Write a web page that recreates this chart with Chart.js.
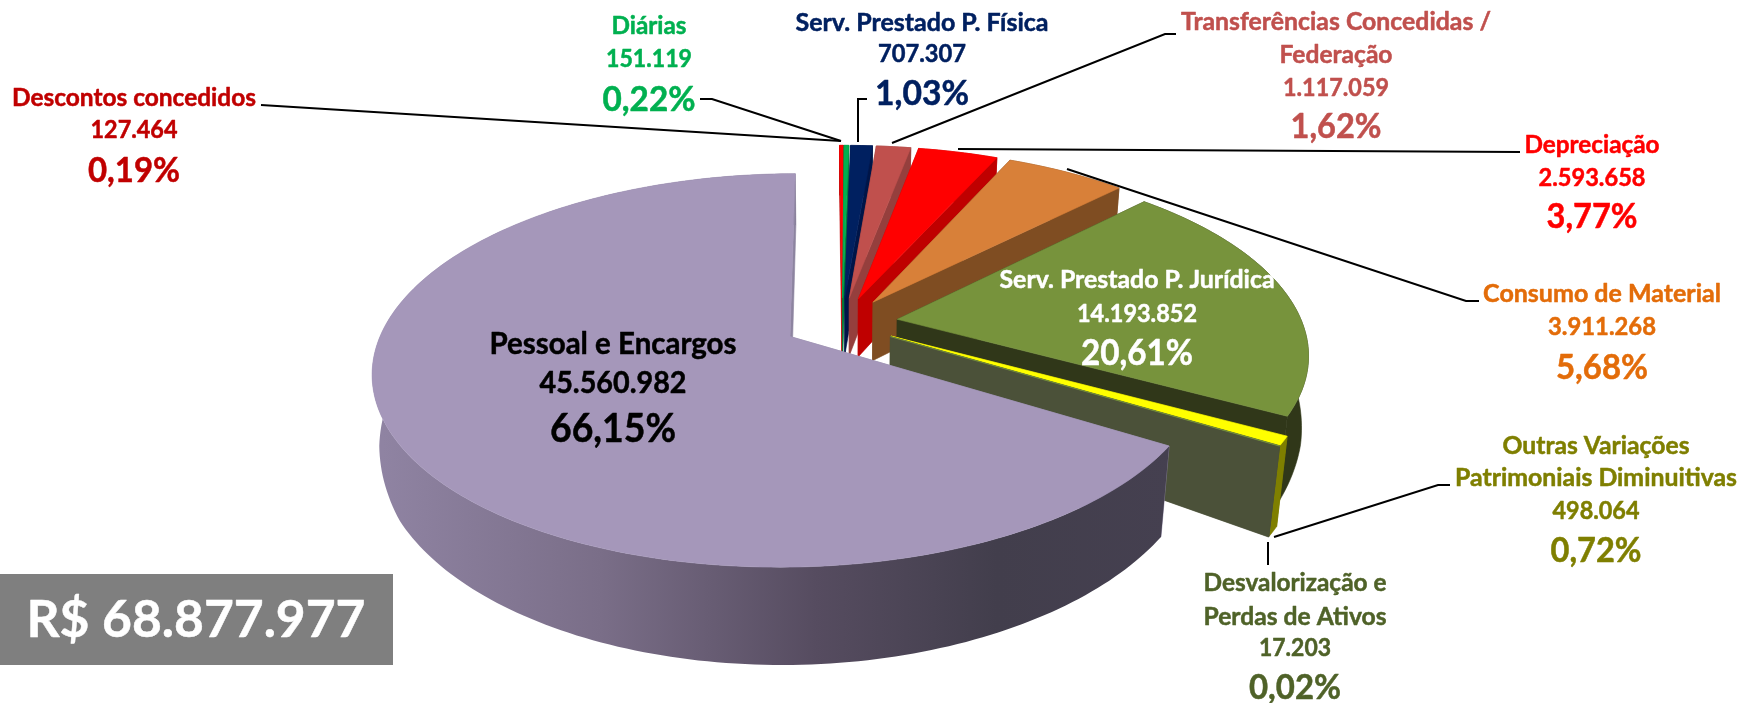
<!DOCTYPE html>
<html><head><meta charset="utf-8">
<style>html,body{margin:0;padding:0;background:#fff}canvas{display:block}</style>
<script src="https://cdn.jsdelivr.net/npm/chart.js@4"></script>
</head><body>
<canvas id="c" width="1742" height="703"></canvas>
<script>
// ---- data ----
const categories = ["Descontos concedidos","Diárias","Serv. Prestado P. Física","Transferências Concedidas / Federação","Depreciação","Consumo de Material","Serv. Prestado P. Jurídica","Outras Variações Patrimoniais Diminuitivas","Desvalorização e Perdas de Ativos","Pessoal e Encargos"];
const values = [127464,151119,707307,1117059,2593658,3911268,14193852,498064,17203,45560982];
const percents = ["0,19%","0,22%","1,03%","1,62%","3,77%","5,68%","20,61%","0,72%","0,02%","66,15%"];
const totalLabel = "R$ 68.877.977";
// ---- styles ----
const topColors = ["#FF0000","#00B050","#002060","#C0504D","#FF0000","#D88039","#77933C","#FFFF00","#77933C","#A597BA"];
const wallColors = ["#BF0000","#007A38","#001548","#953F3D","#BF0000","#7F4D22","#303719","#7F7F00","#4B5139","#8D84A0"];
const rimColors = ["#BF0000","#007A38","#001548","#953F3D","#BF0000","#7F4D22","#303719","#7F7F00","#4B5139",null];
const textColors = ["#C00000","#00B050","#002060","#C0504D","#FF0000","#E36C09","#FFFFFF","#7F7F00","#4F6228","#000000"];
const sliceOffsets = [56,56,56,56,56,56,56,56,56,59];
// ---- text layout: one block per slice: lines, centre x, centre y, width, font size
const labelLines = [
 ["Descontos concedidos"],["Diárias"],["Serv. Prestado P. Física"],["Transferências Concedidas /","Federação"],
 ["Depreciação"],["Consumo de Material"],["Serv. Prestado P. Jurídica"],["Outras Variações","Patrimoniais Diminuitivas"],
 ["Desvalorização e","Perdas de Ativos"],["Pessoal e Encargos"]];
const labelX = [134,649,922,1336,1592,1602,1137,1596,1295,613];
const labelY = [[97,129,170],[25,58,99],[22,53,93],[21,54,87,126],[144,177,216],[293,326,367],[279,313,352],[445,477,510,550],[582,616,647,687],[343,382,428]];
const labelW = [[244,87,92],[75,86,93],[253,88,94],[310,113,106,91],[135,107,91],[238,108,92],[275,120,112],[187,282,87,91],[183,183,72,92],[247,147,126]];
const smallFont = [25,25,25,25,25,25,25,25,25,30];
const bigFont = [35,35,35,35,35,35,37,35,35,41];
// ---- leader lines ----
const leaders = [
 [[261,105],[841,141]],
 [[700,99],[712,99],[841,141]],
 [[867,99],[858,99],[858,142]],
 [[1176,34],[1165,34],[892,143]],
 [[1520,152],[958,149]],
 [[1479,301],[1466,301],[1067,169]],
 [[1450,485],[1438,485],[1274,537]],
 [[1268,542],[1268,565]]
];
// ---- projection of the pie plane ----
const CX=842, CY=323, TILT=0.46, PERSP=0.00042;
const depthStops=[[150,50],[300,58],[430,90],[570,98],[700,102]];
function depthAt(y){
  for(let i=1;i<depthStops.length;i++){
    const a=depthStops[i-1],b=depthStops[i];
    if(y<=b[0]) return a[1]+(b[1]-a[1])*Math.max(0,(y-a[0]))/(b[0]-a[0]);
  }
  return depthStops[depthStops.length-1][1];
}
function convAt(y){return 0.985-Math.max(0,y-370)*0.00013;}
function top3d(px,py){const s=1/(1-PERSP*py);return [CX+px*s,CY+py*TILT*s];}
function bot3d(p){return [CX+(p[0]-CX)*convAt(p[1]),p[1]+depthAt(p[1])];}
function fillPoly(ctx,pts,fill){
  ctx.beginPath();pts.forEach((p,i)=>i?ctx.lineTo(p[0],p[1]):ctx.moveTo(p[0],p[1]));ctx.closePath();
  ctx.fillStyle=fill;ctx.fill();ctx.strokeStyle=fill;ctx.lineWidth=0.6;
  if(typeof fill==='string')ctx.stroke();
}
const pie3d={
  id:'pie3d',
  beforeDatasetDraw(chart,args){
    const ctx=chart.ctx, arcs=args.meta.data;
    arcs.forEach((arc,i)=>{
      const a0=arc.startAngle,a1=arc.endAngle,R=arc.outerRadius,off=arc.options.offset;
      const mid=(a0+a1)/2,ox=Math.cos(mid)*off,oy=Math.sin(mid)*off;
      const n=Math.max(2,Math.ceil((a1-a0)/0.02));
      const rim=[];
      for(let k=0;k<=n;k++){const t=a0+(a1-a0)*k/n;rim.push(top3d(ox+R*Math.cos(t),oy+R*Math.sin(t)));}
      const apex=top3d(ox,oy);
      const apexB=bot3d(apex),rimB=rim.map(bot3d);
      // hidden cut face
      fillPoly(ctx,[apex,rim[0],rimB[0],apexB],wallColors[i]);
      // outer wall
      let fill=rimColors[i];
      if(!fill){
        fill=ctx.createLinearGradient(383,0,1170,0);
        fill.addColorStop(0,'#8F83A2');fill.addColorStop(0.276,'#7A6E88');
        fill.addColorStop(0.55,'#564C60');fill.addColorStop(0.78,'#423E4C');fill.addColorStop(1,'#454050');
      }
      fillPoly(ctx,rim.concat(rimB.slice().reverse()),fill);
      // visible cut face
      fillPoly(ctx,[apex,rim[n],rimB[n],apexB],wallColors[i]);
      // top face
      fillPoly(ctx,[apex].concat(rim),arc.options.backgroundColor);
    });
    return false;
  },
  afterDraw(chart){
    const ctx=chart.ctx;
    ctx.save();
    ctx.strokeStyle='#000';ctx.lineWidth=2;
    leaders.forEach(l=>{ctx.beginPath();l.forEach((p,i)=>i?ctx.lineTo(p[0],p[1]):ctx.moveTo(p[0],p[1]));ctx.stroke();});
    ctx.textAlign='center';ctx.textBaseline='middle';ctx.lineWidth=0.5;ctx.lineJoin='round';
    categories.forEach((c,i)=>{
      const lines=labelLines[i].concat([values[i].toLocaleString('de-DE'),percents[i]]);
      ctx.fillStyle=textColors[i];ctx.strokeStyle=textColors[i];
      lines.forEach((t,j)=>{
        const big=j===lines.length-1;
        ctx.font=`bold ${big?bigFont[i]:smallFont[i]}px Lato`;
        ctx.fillText(t,labelX[i],labelY[i][j]+1,labelW[i][j]);
        ctx.strokeText(t,labelX[i],labelY[i][j]+1,labelW[i][j]);
      });
    });
    ctx.fillStyle='#7F7F7F';ctx.fillRect(0,574,393,91);
    ctx.fillStyle='#FFFFFF';ctx.strokeStyle='#FFFFFF';ctx.font='bold 52px Lato';
    ctx.fillText(totalLabel,196,620,339);
    ctx.strokeText(totalLabel,196,620,339);
    ctx.restore();
  }
};
new Chart(document.getElementById('c'),{
  type:'pie',
  data:{labels:categories,datasets:[{data:values,backgroundColor:topColors,borderWidth:0,offset:sliceOffsets}]},
  options:{responsive:false,animation:false,radius:405,rotation:-0.4,layout:{padding:0},
    plugins:{legend:{display:false},tooltip:{enabled:false}}},
  plugins:[pie3d]
});
</script>
</body></html>
